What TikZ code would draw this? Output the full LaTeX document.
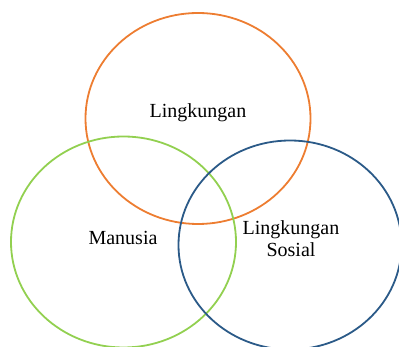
\documentclass[tikz,border=0pt]{standalone}
\usepackage{fontspec}
\setmainfont{Liberation Serif}
\usetikzlibrary{shapes.geometric}
\definecolor{ringorange}{RGB}{237,125,49}
\definecolor{ringgreen}{RGB}{146,208,80}
\definecolor{ringblue}{RGB}{43,90,136}
\begin{document}
\begin{tikzpicture}[
    x=1pt, y=-1pt,
    ring/.style={ellipse, draw, line width=1.8pt, minimum width=225pt, minimum height=211pt, inner sep=0pt},
    label/.style={font=\fontsize{20}{22}\selectfont, align=center}
]

    % Canvas and clipping to the visible region
    \useasboundingbox (0,0) rectangle (399,347);
    \clip (0,0) rectangle (399,347);

    % The three rings
    \node[ring, draw=ringorange] (lingkungan) at (198,118.5) {};
    \node[ring, draw=ringgreen] (manusia) at (123.5,242) {};
    \node[ring, draw=ringblue, minimum width=223pt, minimum height=209pt] (sosial) at (290,245) {};

    % Labels
    \node[label] (lblLingkungan) at (198,113) {Lingkungan};
    \node[label] (lblManusia) at (123,238) {Manusia};
    \node[label] (lblSosial) at (291,239) {Lingkungan\\Sosial};

\end{tikzpicture}
\end{document}
